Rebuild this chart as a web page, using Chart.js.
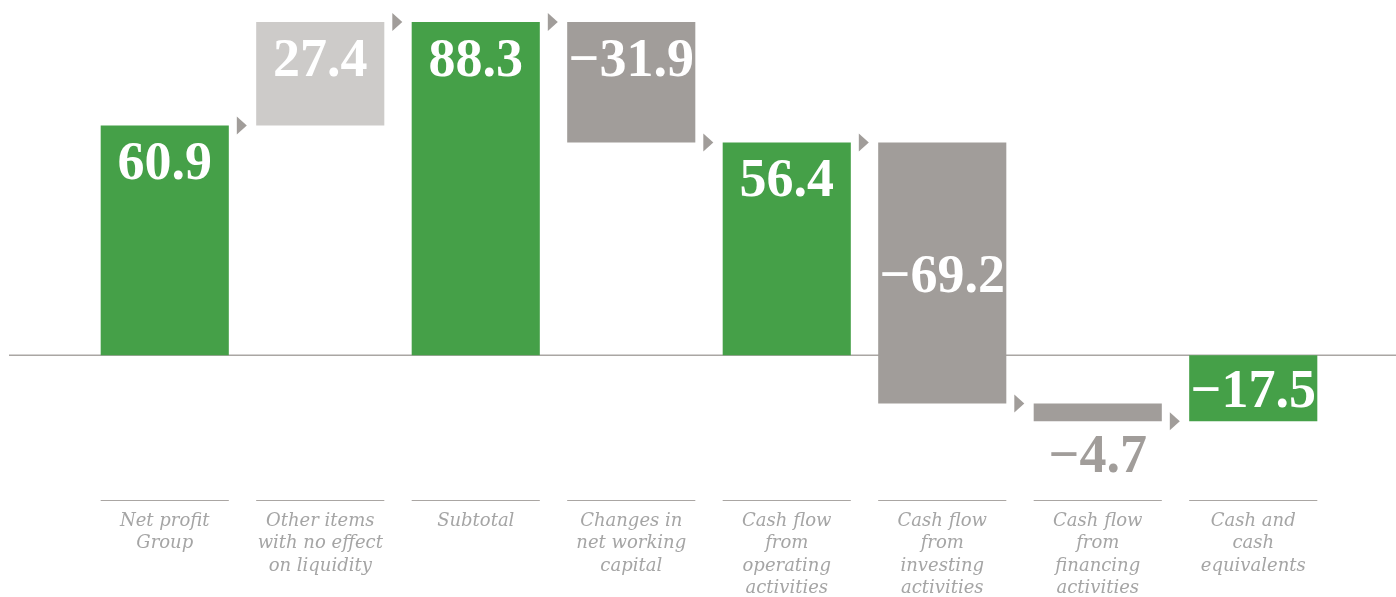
<!DOCTYPE html>
<html>
<head>
<meta charset="utf-8">
<script src="https://cdn.jsdelivr.net/npm/chart.js@4/dist/chart.umd.min.js"></script>
<style>
    html, body { margin: 0; padding: 0; background: #ffffff; }
    #wrap { width: 1396px; height: 597px; position: relative; }
</style>
</head>
<body>
<div id="wrap"><canvas id="chart"></canvas></div>
<script>
'use strict';

// Chart data
const categories = [
    ['Net profit', 'Group'],
    ['Other items', 'with no effect', 'on liquidity'],
    ['Subtotal'],
    ['Changes in', 'net working', 'capital'],
    ['Cash flow', 'from', 'operating', 'activities'],
    ['Cash flow', 'from', 'investing', 'activities'],
    ['Cash flow', 'from', 'financing', 'activities'],
    ['Cash and', 'cash', 'equivalents']
];
const values = [60.9, 27.4, 88.3, -31.9, 56.4, -69.2, -4.7, -17.5];
const kinds = ['total', 'delta', 'total', 'delta', 'total', 'delta', 'delta', 'total'];

// Colours
const GREEN = '#45a048';
const LIGHT_GREY = '#cdcbc9';
const DARK_GREY = '#a19d9a';
const LINE_GREY = '#aaa6a3';

// Build floating bar ranges
let running = 0;
const ranges = [];
const ends = [];
for (let i = 0; i < values.length; i++) {
    if (kinds[i] == 'total') {
        ranges.push([0, values[i]]);
        running = values[i];
    } else {
        ranges.push([running, running + values[i]]);
        running = running + values[i];
    }
    ends.push(running);
}

const barColors = values.map((v, i) => {
    if (kinds[i] == 'total') return GREEN;
    return v >= 0 ? LIGHT_GREY : DARK_GREY;
});

// Label placement per bar
const labelPos = ['top', 'top', 'top', 'top', 'top', 'middle', 'below', 'middle'];

function fmt(v) {
    return (v < 0 ? '\u2212' : '') + Math.abs(v).toFixed(1);
}

// Draw zero line, separators, arrows, value labels
const waterfallPlugin = {
    id: 'waterfall',
    beforeDatasetsDraw(chart) {
        const ctx = chart.ctx;
        const y = chart.scales.y;
        const area = chart.chartArea;
        ctx.save();
        ctx.strokeStyle = LINE_GREY;
        ctx.lineWidth = 1.5;
        ctx.beginPath();
        ctx.moveTo(9, y.getPixelForValue(0));
        ctx.lineTo(chart.width, y.getPixelForValue(0));
        ctx.stroke();

        // separators above category labels
        const bars = chart.getDatasetMeta(0).data;
        ctx.lineWidth = 1;
        bars.forEach((bar) => {
            const half = bar.width / 2;
            ctx.beginPath();
            ctx.moveTo(bar.x - half, area.bottom + 0.5);
            ctx.lineTo(bar.x + half, area.bottom + 0.5);
            ctx.stroke();
        });
        ctx.restore();
    },
    afterDatasetsDraw(chart) {
        const ctx = chart.ctx;
        const y = chart.scales.y;
        const bars = chart.getDatasetMeta(0).data;
        ctx.save();

        // arrows between bars
        ctx.fillStyle = DARK_GREY;
        for (let i = 0; i < bars.length - 1; i++) {
            const right = bars[i].x + bars[i].width / 2;
            const ay = y.getPixelForValue(ends[i]);
            ctx.beginPath();
            ctx.moveTo(right + 8, ay - 9);
            ctx.lineTo(right + 18, ay);
            ctx.lineTo(right + 8, ay + 9);
            ctx.closePath();
            ctx.fill();
        }

        // value labels
        ctx.font = 'bold 54px "Liberation Serif", "Times New Roman", serif';
        ctx.textAlign = 'center';
        ctx.textBaseline = 'alphabetic';
        bars.forEach((bar, i) => {
            const top = Math.min(bar.y, bar.base);
            const bottom = Math.max(bar.y, bar.base);
            let ty;
            if (labelPos[i] == 'top') {
                ctx.fillStyle = '#ffffff';
                ty = top + 54;
            } else if (labelPos[i] == 'middle') {
                ctx.fillStyle = '#ffffff';
                ty = (top + bottom) / 2 + 19;
            } else {
                ctx.fillStyle = DARK_GREY;
                ty = bottom + 51;
            }
            ctx.fillText(fmt(values[i]), bar.x, ty);
        });
        ctx.restore();
    }
};

const ctx = document.getElementById('chart').getContext('2d');
const chart = new Chart(ctx, {
    type: 'bar',
    data: {
        labels: categories,
        datasets: [{
            data: ranges,
            backgroundColor: barColors,
            borderWidth: 0,
            categoryPercentage: 1,
            barPercentage: 0.824
        }]
    },
    options: {
        responsive: true,
        maintainAspectRatio: false,
        animation: false,
        layout: {
            padding: { left: 87, right: 65, top: 22, bottom: -13 }
        },
        plugins: {
            legend: { display: false },
            tooltip: { enabled: false }
        },
        scales: {
            x: {
                grid: { display: false, drawTicks: false },
                border: { display: false },
                ticks: {
                    color: '#a5a5a5',
                    padding: 10,
                    maxRotation: 0,
                    autoSkip: false,
                    font: { family: '"DejaVu Serif", serif', size: 18, style: 'italic', lineHeight: 1.25 }
                }
            },
            y: {
                display: false,
                min: -38.35,
                max: 88.3
            }
        }
    },
    plugins: [waterfallPlugin]
});
</script>
</body>
</html>
